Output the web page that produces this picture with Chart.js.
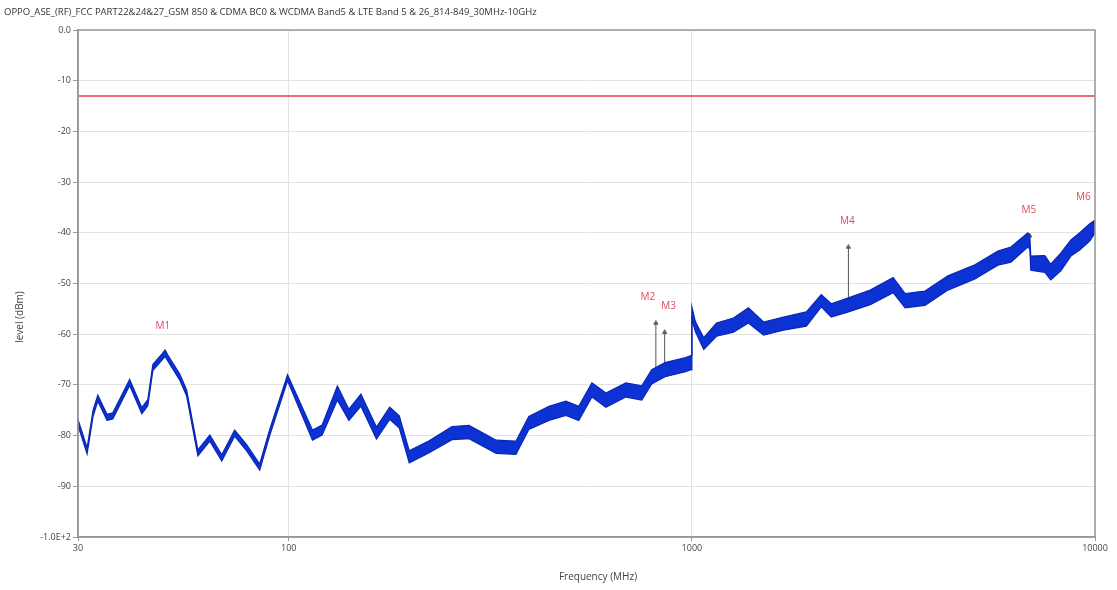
<!DOCTYPE html>
<html>
<head>
<meta charset="utf-8">
<script src="https://cdn.jsdelivr.net/npm/chart.js@4.4.0/dist/chart.umd.min.js"></script>
<style>
  html, body { margin: 0; padding: 0; background: #fff; }
  canvas { display: block; }
</style>
</head>
<body>
<canvas id="scanChart" width="1117" height="590"></canvas>
<script>
const chartTitle = 'OPPO_ASE_(RF)_FCC PART22&24&27_GSM 850 & CDMA BC0 & WCDMA Band5 & LTE Band 5 & 26_814-849_30MHz-10GHz';

// trace: upper and lower edge of the blue band
const freqMHz = [30, 31.6, 32.7, 33.6, 35.4, 36.6, 40.3, 43.2, 44.7, 46, 49.3, 53.6, 55.8, 59.5, 63.7, 68.2, 73.4, 78.6, 84.7, 89.6, 99.3,
  114.5, 121, 132, 141, 151, 165, 178, 188, 199, 223, 254, 280, 327, 366, 394, 442, 487, 524, 565, 612, 686, 751, 795, 858, 965, 995,
  1000, 1020, 1070, 1151, 1268, 1381, 1506, 1687, 1923, 2094, 2217, 2445, 2770, 3157, 3381, 3787, 4317, 5036, 5742, 6186, 6811, 6891, 6930,
  7510, 7765, 8226, 8713, 9165, 9707, 10000];
const levelMax = [-76.8, -82.4, -75, -72, -75.8, -75.5, -68.9, -74.5, -72.9, -66, -63.2, -67.8, -71, -82.8, -79.9, -83.8, -78.9, -81.8, -85.6, -78.9, -68,
  -78.9, -77.9, -70.2, -74.8, -71.8, -78.3, -74.4, -76.1, -83, -81, -78.2, -78, -80.9, -81.1, -76.2, -74.2, -73.2, -74.2, -69.6, -71.6, -69.6, -70.2, -67, -65.6, -64.6, -64.2,
  -54.6, -57.5, -60.7, -57.8, -56.8, -54.8, -57.6, -56.6, -55.6, -52.2, -54, -52.8, -51.3, -48.8, -52, -51.5, -48.5, -46.3, -43.6, -42.8, -40, -40.6, -44.6,
  -44.5, -46.2, -44, -41.4, -40, -38.2, -37.5];
const levelMin = [-78, -83.6, -76.2, -73.2, -77, -76.7, -70.1, -75.7, -74.1, -67.2, -64.4, -69, -72.2, -84, -81.1, -85, -80.1, -83, -86.8, -80.1, -69.2,
  -80.9, -79.9, -73, -77, -74.2, -80.7, -76.8, -78.5, -85.4, -83.4, -80.8, -80.6, -83.5, -83.7, -78.8, -77, -76, -77, -72.4, -74.4, -72.4, -73, -69.8, -68.4, -67.4, -67,
  -57, -59.5, -63, -60.4, -59.6, -57.8, -60.2, -59.2, -58.4, -54.6, -56.6, -55.6, -54.2, -51.8, -54.8, -54.3, -51.3, -49.1, -46.4, -45.8, -42.8, -43.2, -47.4,
  -47.8, -49.3, -47.5, -44.6, -43.4, -41.6, -40];

const limitLevel = -13;

const markerNames = ['M1', 'M2', 'M3', 'M4', 'M5', 'M6'];
const markerFreq = [49.3, 814, 856, 2445, 6891, 9960];
const markerLevel = [-63.5, -57.8, -59.6, -42.8, -40.6, -38];
const spikeBase = [null, -68, -67.5, -54.5, null, null];

const xTicks = [30, 100, 1000, 10000];
const yTicks = [0, -10, -20, -30, -40, -50, -60, -70, -80, -90, -100];
const yTickLabels = ['0.0', '-10', '-20', '-30', '-40', '-50', '-60', '-70', '-80', '-90', '-1.0E+2'];

const blue = '#0c32d4';
const edgeBlue = '#0a26b4';
const markerRed = '#e0485e';
const labelDx = [-2, -8, 4, -1, -1, -11];

const upperPts = freqMHz.map((f, i) => ({ x: f, y: levelMax[i] }));
const lowerPts = freqMHz.map((f, i) => ({ x: f, y: levelMin[i] }));
const spikePts = [];
markerFreq.forEach((f, i) => {
  if (spikeBase[i] === null) return;
  spikePts.push({ x: f, y: spikeBase[i] }, { x: f, y: markerLevel[i] }, { x: f, y: null });
});
const markerPts = markerFreq.map((f, i) => ({ x: f, y: markerLevel[i] }));

const decorations = {
  id: 'decorations',
  beforeDatasetsDraw(chart) {
    const { ctx, chartArea: a, scales: { y } } = chart;
    const ly = y.getPixelForValue(limitLevel);
    ctx.save();
    ctx.strokeStyle = '#f06a72';
    ctx.lineWidth = 2;
    ctx.beginPath();
    ctx.moveTo(a.left, ly);
    ctx.lineTo(a.right, ly);
    ctx.stroke();
    ctx.restore();
  },
  afterDraw(chart) {
    const { ctx, chartArea: a, scales: { x, y } } = chart;
    ctx.save();
    ctx.strokeStyle = '#9a9a9a';
    ctx.lineWidth = 1.5;
    ctx.strokeRect(a.left, a.top, a.right - a.left, a.bottom - a.top);

    ctx.fillStyle = '#333';
    ctx.font = '9.5px "Open Sans", sans-serif';
    ctx.textAlign = 'left';
    ctx.textBaseline = 'middle';
    ctx.fillText(chartTitle, 4, 12);

    ctx.fillStyle = '#444';
    ctx.font = '10px "Open Sans", sans-serif';
    ctx.textAlign = 'center';
    ctx.fillText('Frequency (MHz)', 598, 577);
    ctx.save();
    ctx.translate(20, 317);
    ctx.rotate(-Math.PI / 2);
    ctx.fillText('level (dBm)', 0, 0);
    ctx.restore();

    ctx.fillStyle = markerRed;
    ctx.font = '10px "Open Sans", sans-serif';
    markerNames.forEach((name, i) => {
      const px = x.getPixelForValue(markerFreq[i]) + labelDx[i];
      const py = y.getPixelForValue(markerLevel[i]) - 26;
      ctx.fillText(name, px, py);
    });
    ctx.restore();
  }
};

new Chart(document.getElementById('scanChart'), {
  type: 'line',
  data: {
    datasets: [
      {
        label: 'upper',
        data: upperPts,
        borderColor: edgeBlue,
        borderWidth: 1.2,
        pointRadius: 0,
        fill: false,
        tension: 0
      },
      {
        label: 'lower',
        data: lowerPts,
        borderColor: edgeBlue,
        borderWidth: 1.2,
        pointRadius: 0,
        backgroundColor: blue,
        fill: '-1',
        tension: 0
      },
      {
        label: 'spikes',
        data: spikePts,
        borderColor: '#555',
        borderWidth: 1,
        pointRadius: 0,
        spanGaps: false,
        fill: false
      },
      {
        label: 'markers',
        data: markerPts,
        showLine: false,
        pointStyle: 'triangle',
        pointRadius: 2.5,
        pointBackgroundColor: '#666',
        pointBorderColor: '#666',
        pointBorderWidth: 1
      }
    ]
  },
  options: {
    responsive: false,
    animation: false,
    devicePixelRatio: 1,
    layout: { padding: { top: 30, right: 22, left: 0, bottom: 0 } },
    plugins: {
      legend: { display: false },
      tooltip: { enabled: false },
      title: { display: false }
    },
    scales: {
      x: {
        type: 'logarithmic',
        min: 30,
        max: 10000,
        afterBuildTicks: scale => { scale.ticks = xTicks.map(v => ({ value: v })); },
        afterFit: scale => { scale.height = 53; },
        ticks: {
          color: '#444',
          font: { size: 9, family: '"Open Sans", sans-serif' },
          maxRotation: 0,
          autoSkip: false,
          padding: 2,
          callback: v => String(v)
        },
        grid: { color: '#e2e2e2', tickLength: 4, tickColor: '#999' },
        border: { color: '#8a8a8a', width: 1.5 }
      },
      y: {
        min: -100,
        max: 0,
        afterBuildTicks: scale => { scale.ticks = yTicks.map(v => ({ value: v })); },
        afterFit: scale => { scale.width = 78; },
        ticks: {
          color: '#444',
          font: { size: 9, family: '"Open Sans", sans-serif' },
          padding: 2,
          callback: v => yTickLabels[yTicks.indexOf(v)]
        },
        grid: { color: '#e2e2e2', tickLength: 5, tickColor: '#999' },
        border: { color: '#8a8a8a', width: 1.5 }
      }
    }
  },
  plugins: [decorations]
});
</script>
</body>
</html>
